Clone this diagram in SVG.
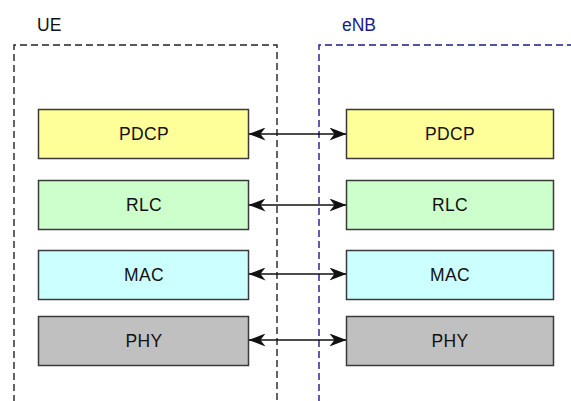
<svg xmlns="http://www.w3.org/2000/svg" width="571" height="401" viewBox="0 0 571 401">
  <style>
    .frame { fill: none; stroke-width: 1.4; stroke-dasharray: 7 4; }
    .layer { stroke: #3a3a3a; stroke-width: 1.5; }
    .lbl { font-family: "Liberation Sans", Arial, sans-serif; font-size: 17.5px; letter-spacing: 0.4px; fill: #111; text-anchor: middle; }
    .title { font-family: "Liberation Sans", Arial, sans-serif; font-size: 17.5px; }
    .link { stroke: #111; stroke-width: 1.6; fill: none; marker-start: url(#head); marker-end: url(#head); }
  </style>
  <defs>
    <marker id="head" viewBox="0 0 17 13" refX="16.5" refY="6.5" markerWidth="17" markerHeight="13" markerUnits="userSpaceOnUse" orient="auto-start-reverse">
      <path d="M0,0 L17,6.5 L0,13 L5,6.5 Z" fill="#111"/>
    </marker>
  </defs>
  <rect width="571" height="401" fill="#fff"/>

  <!-- protocol stack frames -->
  <g id="ue">
    <path class="frame" d="M14,402 V45 H277 V402" stroke="#222"/>
    <text class="title" x="37" y="31" fill="#111">UE</text>
  </g>
  <g id="enb">
    <path class="frame" d="M319,402 V45 H572" stroke="#1a1a8c"/>
    <text class="title" x="342" y="31" fill="#1a1a8c">eNB</text>
  </g>

  <!-- UE layers -->
  <g id="ue-pdcp"><rect class="layer" x="38.5" y="109.5" width="210" height="49" fill="#ffff99"/><text class="lbl" x="144" y="140">PDCP</text></g>
  <g id="ue-rlc"><rect class="layer" x="38.5" y="180.5" width="210" height="49" fill="#ccffcc"/><text class="lbl" x="144" y="211">RLC</text></g>
  <g id="ue-mac"><rect class="layer" x="38.5" y="250.5" width="210" height="49" fill="#ccffff"/><text class="lbl" x="144" y="281">MAC</text></g>
  <g id="ue-phy"><rect class="layer" x="38.5" y="316.5" width="210" height="49" fill="#c0c0c0"/><text class="lbl" x="144" y="347">PHY</text></g>

  <!-- eNB layers -->
  <g id="enb-pdcp"><rect class="layer" x="346.5" y="109.5" width="207" height="49" fill="#ffff99"/><text class="lbl" x="450" y="140">PDCP</text></g>
  <g id="enb-rlc"><rect class="layer" x="346.5" y="180.5" width="207" height="49" fill="#ccffcc"/><text class="lbl" x="450" y="211">RLC</text></g>
  <g id="enb-mac"><rect class="layer" x="346.5" y="250.5" width="207" height="49" fill="#ccffff"/><text class="lbl" x="450" y="281">MAC</text></g>
  <g id="enb-phy"><rect class="layer" x="346.5" y="316.5" width="207" height="49" fill="#c0c0c0"/><text class="lbl" x="450" y="347">PHY</text></g>

  <!-- peer-to-peer links -->
  <g id="links">
    <line class="link" x1="249" y1="134" x2="346" y2="134"/>
    <line class="link" x1="249" y1="205" x2="346" y2="205"/>
    <line class="link" x1="249" y1="274" x2="346" y2="274"/>
    <line class="link" x1="249" y1="340" x2="346" y2="340"/>
  </g>
</svg>
